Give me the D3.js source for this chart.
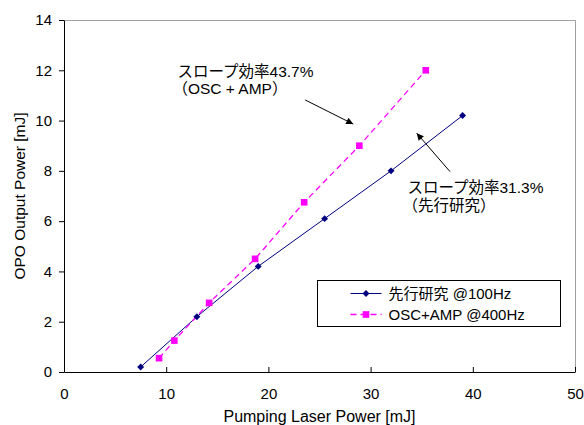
<!DOCTYPE html>
<html>
<head>
<meta charset="utf-8">
<script src="https://cdn.jsdelivr.net/npm/d3@7"></script>
<style>
  body { margin: 0; background: #fff; }
  svg { font-family: "Liberation Sans", "Noto Sans CJK JP", sans-serif; }
</style>
</head>
<body>
<script>
// series 1: earlier study @100Hz
var prevX = [7.5, 13, 19, 25.5, 32, 39];
var prevY = [0.2, 2.2, 4.2, 6.1, 8.0, 10.2];
// series 2: OSC+AMP @400Hz
var ampX = [9.3, 10.8, 14.2, 18.7, 23.5, 28.9, 35.4];
var ampY = [0.55, 1.25, 2.75, 4.5, 6.75, 9.0, 12.0];

var seriesNames = ["先行研究 @100Hz", "OSC+AMP @400Hz"];
var xTicks = [0, 10, 20, 30, 40, 50];
var yTicks = [0, 2, 4, 6, 8, 10, 12, 14];

// annotations, in data units
var annoText = [["スロープ効率43.7%", "（OSC + AMP）"], ["スロープ効率31.3%", "（先行研究）"]];
var annoAt = [[11.1, 11.75], [33.6, 7.1]];
var arrowFrom = [[23.6, 10.82], [37.77, 7.97]];
var arrowTo = [[28.3, 9.86], [34.51, 9.5]];

var outerWidth = 584, outerHeight = 425;
var marginLeft = 64, marginTop = 20;
var innerWidth = 511, innerHeight = 352;

var svg = d3.select("body").append("svg")
    .attr("width", outerWidth)
    .attr("height", outerHeight);

var defs = svg.append("defs");
defs.append("marker")
    .attr("id", "arrow")
    .attr("viewBox", "0 0 10 10")
    .attr("refX", 10).attr("refY", 5)
    .attr("markerWidth", 9).attr("markerHeight", 7)
    .attr("markerUnits", "userSpaceOnUse")
    .attr("orient", "auto")
    .append("path").attr("d", "M0,0 L10,5 L0,10 z").attr("fill", "#000");

var g = svg.append("g").attr("transform", "translate(" + marginLeft + "," + marginTop + ")");

var x = d3.scaleLinear().domain([0, 50]).range([0, innerWidth]);
var y = d3.scaleLinear().domain([0, 14]).range([innerHeight, 0]);

// gray frame (top + right)
g.append("path")
    .attr("d", "M0,0.5 H" + (innerWidth + 0.5) + " V" + innerHeight)
    .attr("fill", "none").attr("stroke", "#a0a0a0");

var xAxis = g.append("g")
    .attr("transform", "translate(0," + innerHeight + ")")
    .call(d3.axisBottom(x).tickValues(xTicks).tickSize(-5).tickPadding(16).tickSizeOuter(0));
var yAxis = g.append("g")
    .call(d3.axisLeft(y).tickValues(yTicks).tickSize(5).tickPadding(7).tickSizeOuter(0));

[xAxis, yAxis].forEach(function(a){
  a.selectAll("text").attr("font-size", 15).attr("font-family", null).attr("fill", "#000");
  a.selectAll("line").attr("stroke", "#000");
  a.select(".domain").attr("stroke", "#000");
});

svg.append("text")
    .attr("x", marginLeft + innerWidth / 2).attr("y", 422)
    .attr("text-anchor", "middle").attr("font-size", 16)
    .text("Pumping Laser Power [mJ]");
svg.append("text")
    .attr("transform", "translate(25," + (marginTop + innerHeight / 2) + ") rotate(-90)")
    .attr("text-anchor", "middle").attr("font-size", 15.5)
    .text("OPO Output Power [mJ]");

var line = d3.line().x(function(d){ return x(d[0]); }).y(function(d){ return y(d[1]); });
var prevData = d3.zip(prevX, prevY);
var ampData = d3.zip(ampX, ampY);

g.append("path").datum(prevData).attr("d", line)
    .attr("fill", "none").attr("stroke", "#000080").attr("stroke-width", 1);
g.append("path").datum(ampData).attr("d", line)
    .attr("fill", "none").attr("stroke", "#ff00ff").attr("stroke-width", 1.3)
    .attr("stroke-dasharray", "6,4");

var diamond = d3.symbol().type(d3.symbolSquare).size(24);
var square = d3.symbol().type(d3.symbolSquare).size(44);

g.selectAll(".prev").data(prevData).enter().append("path")
    .attr("class", "prev")
    .attr("d", diamond)
    .attr("transform", function(d){ return "translate(" + x(d[0]) + "," + y(d[1]) + ") rotate(45)"; })
    .attr("fill", "#000080");
g.selectAll(".amp").data(ampData).enter().append("path")
    .attr("class", "amp")
    .attr("d", square)
    .attr("transform", function(d){ return "translate(" + x(d[0]) + "," + y(d[1]) + ")"; })
    .attr("fill", "#ff00ff");

// arrows
g.selectAll(".arrow").data(d3.range(arrowFrom.length)).enter().append("line")
    .attr("class", "arrow")
    .attr("x1", function(i){ return x(arrowFrom[i][0]); })
    .attr("y1", function(i){ return y(arrowFrom[i][1]); })
    .attr("x2", function(i){ return x(arrowTo[i][0]); })
    .attr("y2", function(i){ return y(arrowTo[i][1]); })
    .attr("stroke", "#000").attr("stroke-width", 1)
    .attr("marker-end", "url(#arrow)");

// annotation text
var anno = g.selectAll(".anno").data(d3.range(annoText.length)).enter().append("text")
    .attr("class", "anno")
    .attr("font-size", 15.5)
    .attr("x", function(i){ return x(annoAt[i][0]); })
    .attr("y", function(i){ return y(annoAt[i][1]); });
anno.selectAll("tspan").data(function(i){ return annoText[i].map(function(t){ return {t: t, i: i}; }); })
    .enter().append("tspan")
    .attr("x", function(d, j){ return x(annoAt[d.i][0]) - (j === 0 ? 0 : 5); })
    .attr("dy", function(d, j){ return j === 0 ? 0 : 17.5; })
    .text(function(d){ return d.t; });

// legend
var legend = svg.append("g").attr("transform", "translate(317.5,280.5)");
legend.append("rect").attr("width", 243).attr("height", 46)
    .attr("fill", "#fff").attr("stroke", "#000");
var rows = legend.selectAll(".row").data(seriesNames).enter().append("g")
    .attr("transform", function(d, i){ return "translate(0," + (13 + i * 21) + ")"; });
rows.append("line").attr("x1", 33).attr("x2", 64)
    .attr("stroke", function(d, i){ return i === 0 ? "#000080" : "#ff00ff"; })
    .attr("stroke-width", function(d, i){ return i === 0 ? 1 : 1.3; })
    .attr("stroke-dasharray", function(d, i){ return i === 0 ? null : "6,4"; });
rows.append("path")
    .attr("d", function(d, i){ return i === 0 ? diamond() : square(); })
    .attr("transform", function(d, i){ return "translate(48.5,0)" + (i === 0 ? " rotate(45)" : ""); })
    .attr("fill", function(d, i){ return i === 0 ? "#000080" : "#ff00ff"; });
rows.append("text").attr("x", 71).attr("dy", "0.35em")
    .attr("font-size", 15)
    .text(function(d){ return d; });
</script>
</body>
</html>
